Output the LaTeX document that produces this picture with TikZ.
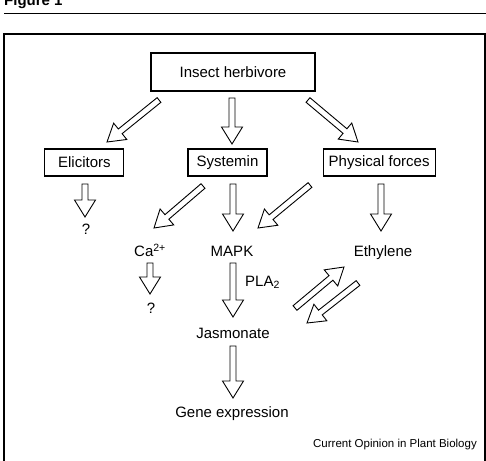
\documentclass[tikz,border=0pt]{standalone}
\usepackage{fontspec}
\setmainfont{Liberation Sans}
\usepackage{xcolor}
\usetikzlibrary{positioning,calc}
\tikzset{%
  stageBox/.style={%
    rectangle,
    draw=black,
    line width=1.1pt,
    minimum height=27pt,
    inner sep=0pt,
    font=\fontsize{15}{18}\selectfont
  },
  plainLabel/.style={%
    inner sep=0pt,
    anchor=base,
    font=\fontsize{15}{18}\selectfont
  },
  hollowArrow/.style={%
    draw=black,
    fill=white,
    line width=0.9pt,
    line join=miter
  }
}
% block arrow from #1 (tail) to #2 (tip)
\newcommand{\blockArrow}[2]{%
  \path[hollowArrow] ($(#1)!3pt!-90:(#2)$)
    -- ($(#2)!17pt!(#1)!3pt!90:(#1)$)
    -- ($(#2)!17pt!(#1)!10.5pt!90:(#1)$)
    -- (#2)
    -- ($(#2)!17pt!(#1)!10.5pt!-90:(#1)$)
    -- ($(#2)!17pt!(#1)!3pt!-90:(#1)$)
    -- ($(#1)!3pt!90:(#2)$)
    -- cycle;
}

\begin{document}
\begin{tikzpicture}[x=1pt,y=-1pt]
  \useasboundingbox (0,0) rectangle (486,460);
  \node[anchor=base west, inner sep=0pt, font=\bfseries\fontsize{15}{18}\selectfont] (figLabel) at (4,6) {Figure 1};
  \draw[line width=1pt] (4,14) -- (486,14);
  \draw[line width=1.2pt] (4,34) rectangle (485,480);

  % boxes
  \node[stageBox, minimum width=164pt, minimum height=38pt] (herb) at (233,72) {Insect herbivore};
  \node[stageBox, minimum width=79pt] (sys) at (227.5,162.5) {Systemin};
  \node[stageBox, minimum width=79pt, left=63pt of sys] (elic) {Elicitors};
  \node[stageBox, minimum width=112pt, right=55pt of sys] (phys) {Physical forces};

  % plain labels
  \node[plainLabel] (elicQ) at (86,234) {?};
  \node[plainLabel] (calcium) at (150,256.5) {Ca\textsuperscript{2+}};
  \node[plainLabel] (mapk) at (232,256.5) {MAPK};
  \node[plainLabel] (ethy) at (383,256) {Ethylene};
  \node[plainLabel] (calQ) at (151,313) {?};
  \node[plainLabel, anchor=base west] (pla) at (245,286) {PLA\textsubscript{2}};
  \node[plainLabel] (jasm) at (233,338) {Jasmonate};
  \node[plainLabel] (gene) at (232,417) {Gene expression};
  \node[plainLabel, anchor=base east, font=\fontsize{11.5}{14}\selectfont] (credit) at (477,447) {Current Opinion in Plant Biology};

  % arrow ends
  \coordinate (herbElicS) at (159,100);  \coordinate (herbElicT) at (107,142);
  \coordinate (herbSysS) at (232,98);    \coordinate (herbSysT) at (232,144);
  \coordinate (herbPhysS) at (308,100);  \coordinate (herbPhysT) at (358,142);
  \coordinate (elicQS) at (85,184);      \coordinate (elicQT) at (85,217);
  \coordinate (sysCaS) at (203,186);     \coordinate (sysCaT) at (154,228);
  \coordinate (sysMapkS) at (233,184);   \coordinate (sysMapkT) at (233,231);
  \coordinate (physMapkS) at (310,185);  \coordinate (physMapkT) at (258,228);
  \coordinate (physEthS) at (381,184);   \coordinate (physEthT) at (381,231);
  \coordinate (caQS) at (150,263);       \coordinate (caQT) at (150,294);
  \coordinate (mapkJasS) at (233,263);   \coordinate (mapkJasT) at (233,317);
  \coordinate (jasEthS) at (295,308);    \coordinate (jasEthT) at (344,267);
  \coordinate (ethJasS) at (358,283);    \coordinate (ethJasT) at (307,323);
  \coordinate (jasGeneS) at (233,346);   \coordinate (jasGeneT) at (233,398);

  \blockArrow{herbElicS}{herbElicT}
  \blockArrow{herbSysS}{herbSysT}
  \blockArrow{herbPhysS}{herbPhysT}
  \blockArrow{elicQS}{elicQT}
  \blockArrow{sysCaS}{sysCaT}
  \blockArrow{sysMapkS}{sysMapkT}
  \blockArrow{physMapkS}{physMapkT}
  \blockArrow{physEthS}{physEthT}
  \blockArrow{caQS}{caQT}
  \blockArrow{mapkJasS}{mapkJasT}
  \blockArrow{jasEthS}{jasEthT}
  \blockArrow{ethJasS}{ethJasT}
  \blockArrow{jasGeneS}{jasGeneT}
\end{tikzpicture}
\end{document}
